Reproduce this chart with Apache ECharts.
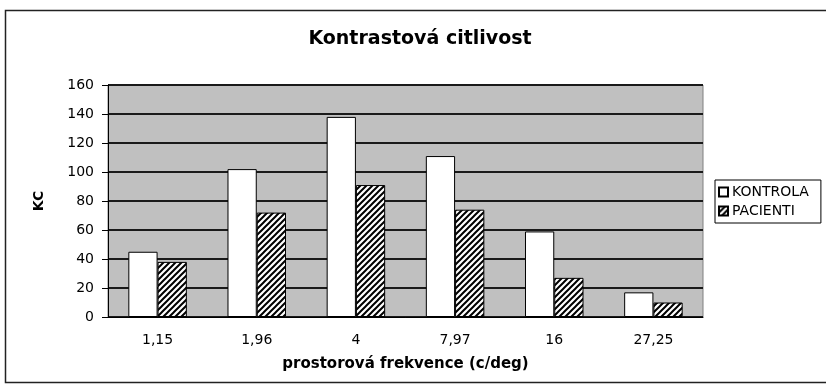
<!DOCTYPE html>
<html>
<head>
<meta charset="utf-8">
<style>
  html, body { margin: 0; padding: 0; background: #fff; }
  #chart { width: 826px; height: 384px; }
</style>
<script src="https://cdn.jsdelivr.net/npm/echarts@6/dist/echarts.min.js"></script>
</head>
<body>
<div id="chart"></div>
<script>
// Spatial frequencies (c/deg) and contrast sensitivity per group
const categories = ['1,15', '1,96', '4', '7,97', '16', '27,25'];
const kontrola = [45, 102, 138, 111, 59, 17];
const pacienti = [38, 72, 91, 74, 27, 10];
const yTicks = [0, 20, 40, 60, 80, 100, 120, 140, 160];

// Black-on-white diagonal hatch used for the patient series
function hatchPattern() {
  const c = document.createElement('canvas');
  c.width = 6; c.height = 6;
  const ctx = c.getContext('2d');
  ctx.fillStyle = '#fff';
  ctx.fillRect(0, 0, 6, 6);
  ctx.strokeStyle = '#000';
  ctx.lineWidth = 2;
  ctx.beginPath();
  ctx.moveTo(-1, 7); ctx.lineTo(7, -1);
  ctx.moveTo(-1, 1); ctx.lineTo(1, -1);
  ctx.moveTo(5, 7); ctx.lineTo(7, 5);
  ctx.stroke();
  return c;
}

const font = '"DejaVu Sans", sans-serif';
const chart = echarts.init(document.getElementById('chart'), null, { renderer: 'canvas' });

chart.setOption({
  animation: false,
  backgroundColor: '#fff',
  title: {
    text: 'Kontrastová citlivost',
    left: 420,
    textAlign: 'center',
    top: 30,
    padding: 0,
    textStyle: { fontFamily: font, fontSize: 19, fontWeight: 'bold', color: '#000' }
  },
  graphic: [{
    type: 'rect',
    shape: { x: 5.5, y: 10.5, width: 840, height: 372 },
    style: { fill: 'none', stroke: '#222', lineWidth: 1.5 },
    z: -1
  }],
  legend: {
    orient: 'vertical',
    left: 715,
    top: 180,
    icon: 'rect',
    itemWidth: 9,
    itemHeight: 9,
    itemGap: 5,
    padding: [5, 12, 5, 3],
    borderColor: '#000',
    borderWidth: 1,
    backgroundColor: '#fff',
    textStyle: { fontFamily: font, fontSize: 14, color: '#000', padding: [0, 0, 0, -1] },
    data: ['KONTROLA', 'PACIENTI']
  },
  grid: {
    left: 108, right: 123, top: 85, bottom: 67,
    show: true,
    backgroundColor: '#c0c0c0',
    borderColor: '#808080',
    borderWidth: 1
  },
  xAxis: {
    type: 'category',
    data: categories,
    name: 'prostorová frekvence (c/deg)',
    nameLocation: 'middle',
    nameGap: 40,
    nameTextStyle: { fontFamily: font, fontSize: 15, fontWeight: 'bold', color: '#000' },
    axisLine: { lineStyle: { color: '#000', width: 1 } },
    axisTick: { length: 6, lineStyle: { color: '#000' } },
    axisLabel: { margin: 16, fontFamily: font, fontSize: 14, color: '#000' },
    splitLine: { show: false }
  },
  yAxis: {
    type: 'value',
    min: yTicks[0],
    max: yTicks[yTicks.length - 1],
    interval: yTicks[1] - yTicks[0],
    name: 'KC',
    nameLocation: 'middle',
    nameGap: 62,
    nameTextStyle: { fontFamily: font, fontSize: 14, fontWeight: 'bold', color: '#000' },
    axisLine: { show: true, lineStyle: { color: '#000', width: 1 } },
    axisTick: { show: true, length: 6, lineStyle: { color: '#000' } },
    axisLabel: { margin: 14, fontFamily: font, fontSize: 14, color: '#000' },
    splitLine: { show: true, lineStyle: { color: '#1a1a1a', width: 2 } }
  },
  series: [
    {
      name: 'KONTROLA',
      type: 'bar',
      data: kontrola,
      barGap: '0%',
      barCategoryGap: '41%',
      itemStyle: { color: '#fff', borderColor: '#000', borderWidth: 1 }
    },
    {
      name: 'PACIENTI',
      type: 'bar',
      data: pacienti,
      itemStyle: {
        color: { image: hatchPattern(), repeat: 'repeat' },
        borderColor: '#000',
        borderWidth: 1
      }
    }
  ]
});
</script>
</body>
</html>
